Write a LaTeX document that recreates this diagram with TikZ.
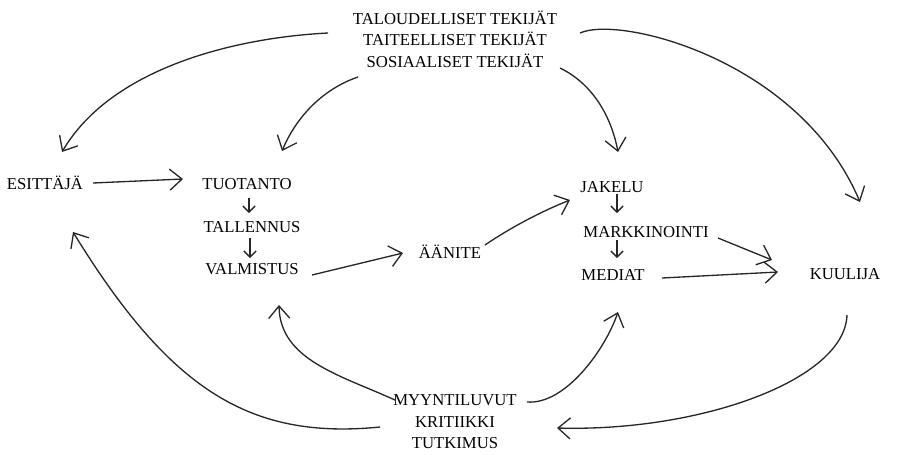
\documentclass[tikz,border=0pt]{standalone}
\usepackage{fontspec}
\setmainfont{Liberation Serif}
\usetikzlibrary{arrows.meta}
\begin{document}
\begin{tikzpicture}[x=0.02cm,y=-0.02cm,
  lbl/.style={font=\fontsize{9.5}{12.2}\selectfont, inner sep=0pt, align=center, text=black},
  conn/.style={line width=0.75pt, draw=black!85, -{Straight Barb[length=7pt,width=12pt,line width=0.75pt]}},
  tiny/.style={line width=0.75pt, draw=black!85, -{Straight Barb[length=3.5pt,width=7pt,line width=0.75pt]}}]
\useasboundingbox (0,0) rectangle (897,454);
% texts
\node[lbl] (top) at (455,39) {TALOUDELLISET TEKIJÄT\\TAITEELLISET TEKIJÄT\\SOSIAALISET TEKIJÄT};
\node[lbl] (esi) at (45,183) {ESITTÄJÄ};
\node[lbl] (tuo) at (247,184) {TUOTANTO};
\node[lbl] (tal) at (252,227) {TALLENNUS};
\node[lbl] (val) at (252,269) {VALMISTUS};
\node[lbl] (aan) at (450,252) {ÄÄNITE};
\node[lbl] (jak) at (612,187) {JAKELU};
\node[lbl] (mar) at (646,232) {MARKKINOINTI};
\node[lbl] (med) at (613,275) {MEDIAT};
\node[lbl] (kuu) at (845,274) {KUULIJA};
\node[lbl] (bot) at (455,422) {MYYNTILUVUT\\KRITIIKKI\\TUTKIMUS};
% free ends
\coordinate (t1) at (328,33);
\coordinate (t2) at (358,77);
\coordinate (t3) at (560,68);
\coordinate (t4) at (580,33);
\coordinate (e1) at (62,152);
\coordinate (e2) at (282,151);
\coordinate (e3) at (618,152);
\coordinate (e4) at (860,202);
\coordinate (es0) at (93,183);
\coordinate (tu0) at (183,179);
\coordinate (k1) at (772,260);
\coordinate (k2) at (778,272);
\coordinate (kb) at (847,315);
\coordinate (b1) at (557,428);
\coordinate (br) at (527,402);
\coordinate (m1) at (618,312);
\coordinate (bl1) at (395,400);
\coordinate (v1) at (279,305);
\coordinate (bl2) at (380,427);
\coordinate (es1) at (73,232);
% top arrows
\draw[conn] (t1) .. controls (230,38) and (110,70) .. (e1);
\draw[conn] (t2) .. controls (320,90) and (295,120) .. (e2);
\draw[conn] (t3) .. controls (595,85) and (612,120) .. (e3);
\draw[conn] (t4) .. controls (620,15) and (800,60) .. (e4);
% middle
\draw[conn] (es0) -- (tu0);
\draw[tiny] (249,198) -- (249,213);
\draw[tiny] (250,238) -- (250,258);
\draw[conn] (312,275) -- (403,253);
\draw[conn] (485,245) .. controls (510,228) and (540,212) .. (570,200);
\draw[tiny] (617,194) -- (617,213);
\draw[tiny] (617,240) -- (617,258);
\draw[conn] (718,238) -- (k1);
\draw[conn] (662,278) -- (k2);
% bottom arrows
\draw[conn] (kb) .. controls (845,380) and (700,432) .. (b1);
\draw[conn] (br) .. controls (565,405) and (605,350) .. (m1);
\draw[conn] (bl1) .. controls (340,375) and (280,360) .. (v1);
\draw[conn] (bl2) .. controls (250,440) and (170,390) .. (es1);
\end{tikzpicture}
\end{document}
